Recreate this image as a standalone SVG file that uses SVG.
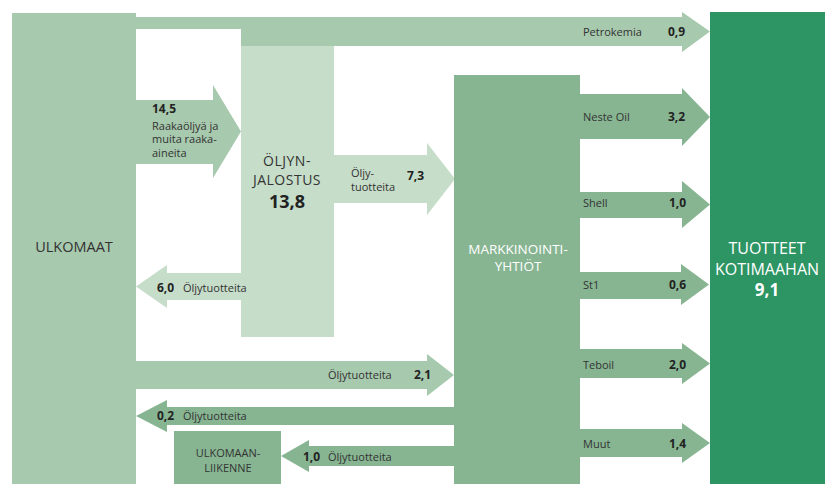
<svg xmlns="http://www.w3.org/2000/svg" width="825" height="484" viewBox="0 0 825 484">
<style>
.c1{fill:#a7c9ad}
.c2{fill:#c6ddc9}
.c3{fill:#87b592}
.c4{fill:#2d9564}
text{font-family:"Open Sans","Liberation Sans",sans-serif;fill:#333}
.s{font-size:11px}
.n{font-size:12px;font-weight:bold;fill:#222}
.big{font-size:14px;letter-spacing:0.5px}
.w{fill:#fff}
.m{text-anchor:middle}
</style>
<rect width="825" height="484" fill="#fff"/>
<g id="connectors">
  <path id="petrokemia" class="c1" d="M130,17 H682 V12 L710,31.5 L682,52 V46 H241 V29 H130 Z"/>
  <path id="raaka" class="c1" d="M130,100 H213 V85 L241,131.5 L213,178 V164 H130 Z"/>
  <path id="a73" class="c2" d="M330,155 H427 V143 L455,179 L427,215 V203 H330 Z"/>
  <path id="a60" class="c2" d="M245,273 H167 V265 L136,286.5 L167,308 V300 H245 Z"/>
  <path id="a21" class="c1" d="M130,361 H427 V354 L454,375 L427,396 V389 H130 Z"/>
  <path id="a02" class="c3" d="M458,407 H167 V400 L136,416 L167,432 V425 H458 Z"/>
  <path id="a10" class="c3" d="M458,446 H309 V440 L281,456 L309,472 V466 H458 Z"/>
  <path id="neste" class="c3" d="M576,94 H682 V88 L710,117 L682,146 V139 H576 Z"/>
  <path id="shell" class="c3" d="M576,192 H682 V181 L710,204.5 L682,228 V218 H576 Z"/>
  <path id="st1" class="c3" d="M576,272 H681 V264 L709,284.5 L681,305 V299 H576 Z"/>
  <path id="teboil" class="c3" d="M576,349 H682 V343 L710,363.5 L682,384 V378 H576 Z"/>
  <path id="muut" class="c3" d="M576,429 H682 V423 L710,443 L682,463 V457 H576 Z"/>
</g>
<g id="ulkomaat">
  <rect class="c1" x="12" y="13" width="124" height="471"/>
  <text class="m" x="74" y="252" style="font-size:14.5px">ULKOMAAT</text>
</g>
<g id="jalostus">
  <rect class="c2" x="241" y="46" width="93" height="291"/>
  <text class="m big" x="287" y="166">ÖLJYN-</text>
  <text class="m big" x="287" y="185">JALOSTUS</text>
  <text class="m" x="287" y="208" style="font-size:18px;font-weight:bold;fill:#222">13,8</text>
</g>
<g id="markkinointi">
  <rect class="c3" x="454" y="75" width="126" height="409"/>
  <text class="m w" x="518" y="254" style="font-size:13.5px">MARKKINOINTI-</text>
  <text class="m w" x="518" y="271" style="font-size:13.5px">YHTIÖT</text>
</g>
<g id="ulkomaanliikenne">
  <rect class="c3" x="174" y="431" width="107" height="53"/>
  <text class="m s" x="228" y="457">ULKOMAAN-</text>
  <text class="m s" x="228" y="472">LIIKENNE</text>
</g>
<g id="tuotteet">
  <rect class="c4" x="710" y="12" width="115" height="472"/>
  <text class="m w" x="767" y="254" style="font-size:16px">TUOTTEET</text>
  <text class="m w" x="767" y="275" style="font-size:16px">KOTIMAAHAN</text>
  <text class="m w" x="767" y="296" style="font-size:17px;font-weight:bold">9,1</text>
</g>
<g id="labels">
  <text class="n" x="152" y="113">14,5</text>
  <text class="s" x="152" y="129.5">Raakaöljyä ja</text>
  <text class="s" x="152" y="143">muita raaka-</text>
  <text class="s" x="152" y="156.5">aineita</text>
  <text class="s" x="351" y="177">Öljy-</text>
  <text class="s" x="351" y="191">tuotteita</text>
  <text class="n" x="407" y="180">7,3</text>
  <text class="n" x="157" y="292">6,0</text>
  <text class="s" x="183" y="292">Öljytuotteita</text>
  <text class="s" x="328" y="379">Öljytuotteita</text>
  <text class="n" x="414" y="379">2,1</text>
  <text class="n" x="157" y="420">0,2</text>
  <text class="s" x="183" y="420">Öljytuotteita</text>
  <text class="n" x="303" y="461">1,0</text>
  <text class="s" x="328" y="461">Öljytuotteita</text>
  <text class="s" x="583" y="36">Petrokemia</text>
  <text class="n" x="668" y="36">0,9</text>
  <text class="s" x="583" y="121">Neste Oil</text>
  <text class="n" x="668" y="121">3,2</text>
  <text class="s" x="583" y="207">Shell</text>
  <text class="n" x="669" y="207">1,0</text>
  <text class="s" x="583" y="289">St1</text>
  <text class="n" x="669" y="289">0,6</text>
  <text class="s" x="583" y="369">Teboil</text>
  <text class="n" x="669" y="369">2,0</text>
  <text class="s" x="583" y="448">Muut</text>
  <text class="n" x="669" y="448">1,4</text>
</g>
</svg>
